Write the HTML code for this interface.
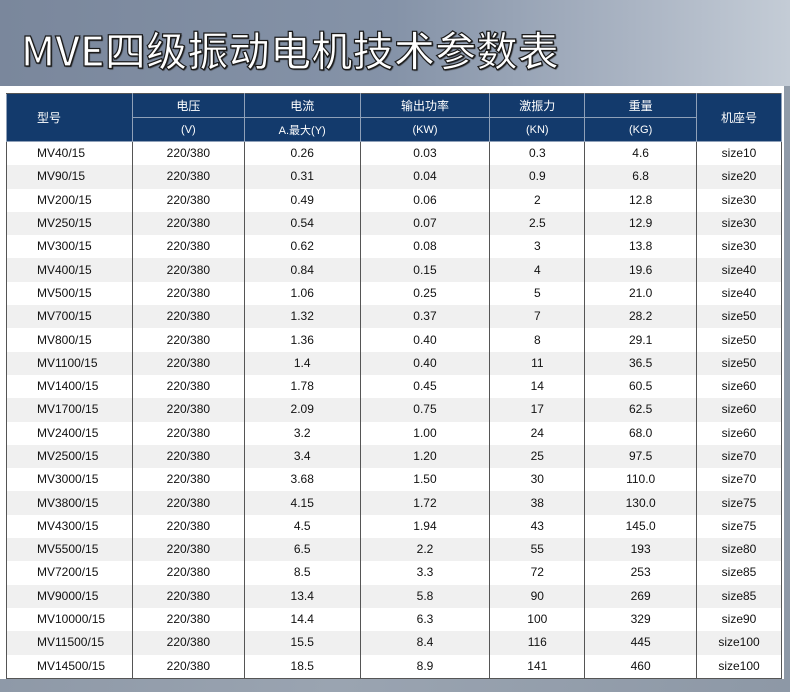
<!DOCTYPE html>
<html><head><meta charset="utf-8"><style>
html,body{margin:0;padding:0}
body{width:790px;height:692px;position:relative;overflow:hidden;background:linear-gradient(100deg,#8a95a4 0%,#9aa4b1 50%,#8d98a6 100%);font-family:"Liberation Sans","Noto Sans CJK SC",sans-serif}
.top{position:absolute;left:0;top:0;width:790px;height:86px;background:linear-gradient(90deg,#7a879c 0%,#8593a8 50%,#aab4c3 80%,#c4ccd6 100%)}
.title{position:absolute;left:21px;top:18px;font-size:41px;color:#fff;font-family:"Noto Sans CJK SC",sans-serif;font-weight:500;letter-spacing:0.3px;line-height:60px;-webkit-text-stroke:1.2px #1a1a1a;text-shadow:1px 1px 1px #222}
.panel{position:absolute;left:0;top:86px;width:784px;height:593px;background:#fff}
table{position:absolute;left:6px;top:93px;border-collapse:collapse;width:776px;font-size:12px;color:#111}
th{background:#133a6c;color:#fff;font-weight:normal;border:1px solid #8fa0b8;border-top-color:#555;height:23px;padding:0}
th.s{font-size:11px}
td{text-align:center;height:23.3px;padding:0;border-left:1.5px solid #555;border-right:1.5px solid #555;line-height:23px}
tr:nth-child(even) td{background:#f0f0f0}
tbody tr:last-child td{border-bottom:1.5px solid #555}
td:first-child{text-align:left;padding-left:30px}
</style></head><body>
<div class="top"></div>
<div class="title">MVE四级振动电机技术参数表</div>
<div class="panel"></div>
<table>
<colgroup><col style="width:126px"><col style="width:112px"><col style="width:116px"><col style="width:130px"><col style="width:95px"><col style="width:112px"><col style="width:85px"></colgroup>
<thead>
<tr><th rowspan="2" style="text-align:left;padding-left:30px">型号</th><th>电压</th><th>电流</th><th>输出功率</th><th>激振力</th><th>重量</th><th rowspan="2">机座号</th></tr>
<tr><th class="s">(V)</th><th class="s">A.最大(Y)</th><th class="s">(KW)</th><th class="s">(KN)</th><th class="s">(KG)</th></tr>
</thead>
<tbody>
<tr><td>MV40/15</td><td>220/380</td><td>0.26</td><td>0.03</td><td>0.3</td><td>4.6</td><td>size10</td></tr>
<tr><td>MV90/15</td><td>220/380</td><td>0.31</td><td>0.04</td><td>0.9</td><td>6.8</td><td>size20</td></tr>
<tr><td>MV200/15</td><td>220/380</td><td>0.49</td><td>0.06</td><td>2</td><td>12.8</td><td>size30</td></tr>
<tr><td>MV250/15</td><td>220/380</td><td>0.54</td><td>0.07</td><td>2.5</td><td>12.9</td><td>size30</td></tr>
<tr><td>MV300/15</td><td>220/380</td><td>0.62</td><td>0.08</td><td>3</td><td>13.8</td><td>size30</td></tr>
<tr><td>MV400/15</td><td>220/380</td><td>0.84</td><td>0.15</td><td>4</td><td>19.6</td><td>size40</td></tr>
<tr><td>MV500/15</td><td>220/380</td><td>1.06</td><td>0.25</td><td>5</td><td>21.0</td><td>size40</td></tr>
<tr><td>MV700/15</td><td>220/380</td><td>1.32</td><td>0.37</td><td>7</td><td>28.2</td><td>size50</td></tr>
<tr><td>MV800/15</td><td>220/380</td><td>1.36</td><td>0.40</td><td>8</td><td>29.1</td><td>size50</td></tr>
<tr><td>MV1100/15</td><td>220/380</td><td>1.4</td><td>0.40</td><td>11</td><td>36.5</td><td>size50</td></tr>
<tr><td>MV1400/15</td><td>220/380</td><td>1.78</td><td>0.45</td><td>14</td><td>60.5</td><td>size60</td></tr>
<tr><td>MV1700/15</td><td>220/380</td><td>2.09</td><td>0.75</td><td>17</td><td>62.5</td><td>size60</td></tr>
<tr><td>MV2400/15</td><td>220/380</td><td>3.2</td><td>1.00</td><td>24</td><td>68.0</td><td>size60</td></tr>
<tr><td>MV2500/15</td><td>220/380</td><td>3.4</td><td>1.20</td><td>25</td><td>97.5</td><td>size70</td></tr>
<tr><td>MV3000/15</td><td>220/380</td><td>3.68</td><td>1.50</td><td>30</td><td>110.0</td><td>size70</td></tr>
<tr><td>MV3800/15</td><td>220/380</td><td>4.15</td><td>1.72</td><td>38</td><td>130.0</td><td>size75</td></tr>
<tr><td>MV4300/15</td><td>220/380</td><td>4.5</td><td>1.94</td><td>43</td><td>145.0</td><td>size75</td></tr>
<tr><td>MV5500/15</td><td>220/380</td><td>6.5</td><td>2.2</td><td>55</td><td>193</td><td>size80</td></tr>
<tr><td>MV7200/15</td><td>220/380</td><td>8.5</td><td>3.3</td><td>72</td><td>253</td><td>size85</td></tr>
<tr><td>MV9000/15</td><td>220/380</td><td>13.4</td><td>5.8</td><td>90</td><td>269</td><td>size85</td></tr>
<tr><td>MV10000/15</td><td>220/380</td><td>14.4</td><td>6.3</td><td>100</td><td>329</td><td>size90</td></tr>
<tr><td>MV11500/15</td><td>220/380</td><td>15.5</td><td>8.4</td><td>116</td><td>445</td><td>size100</td></tr>
<tr><td>MV14500/15</td><td>220/380</td><td>18.5</td><td>8.9</td><td>141</td><td>460</td><td>size100</td></tr>
</tbody>
</table>
</body></html>
